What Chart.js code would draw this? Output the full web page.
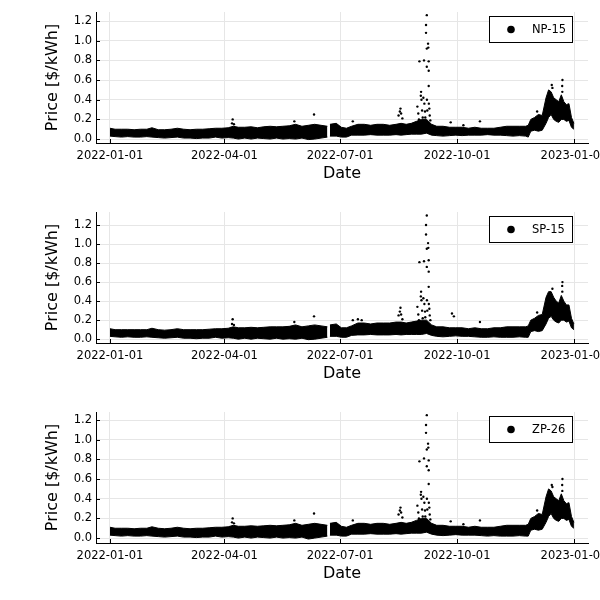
<!DOCTYPE html>
<html>
<head>
<meta charset="utf-8">
<script src="https://cdn.jsdelivr.net/npm/chart.js@4/dist/chart.umd.min.js"></script>
<style>
  body { margin: 0; background: #fff; }
  .panel { position: absolute; left: 0; width: 600px; height: 200px; }
</style>
</head>
<body>
<div class="panel" style="top:0"><canvas id="np" width="600" height="200"></canvas></div>
<div class="panel" style="top:200px"><canvas id="sp" width="600" height="200"></canvas></div>
<div class="panel" style="top:400px"><canvas id="zp" width="600" height="200"></canvas></div>
<script>
// x = days since 2022-01-01
const dateTicks = [0, 90, 181, 273, 365];
const dateLabels = ['2022-01-01', '2022-04-01', '2022-07-01', '2022-10-01', '2023-01-01'];
const priceTicks = [0, 0.2, 0.4, 0.6, 0.8, 1.0, 1.2];

// sample days for the dense hourly band (upper / lower edge)
const days = [0,4,9,14,19,24,29, 33,38,43,48,53,58,63,68,73,78, 83,88,93,97,101,106,111,116,121,126,
  131,136,141,146,151,156,161,166,171,172, 173,178,182,186,190,195,200,205,210,215,
  220,225,229,233,237,241,245,249,253,257, 262,267,272,277,282,287,292,297,302,307,
  312,317,322,327,329,331,334,337,340,343, 345,347,349,351,353,355,357,359,361,363, 364.9];

const npHigh = [0.11,0.10,0.10,0.10,0.095,0.10,0.10, 0.115,0.095,0.095,0.10,0.11,0.10,0.095,0.10,0.10,0.105,
  0.11,0.11,0.115,0.13,0.12,0.12,0.125,0.115,0.125,0.13, 0.125,0.13,0.135,0.15,0.13,0.14,0.15,0.14,0.13,null,
  0.15,0.16,0.12,0.11,0.13,0.15,0.15,0.14,0.15,0.15, 0.14,0.15,0.16,0.15,0.16,0.18,0.20,0.20,0.15,0.13,
  0.13,0.12,0.12,0.12,0.11,0.12,0.11,0.11,0.11,0.12, 0.13,0.13,0.13,0.13,0.14,0.20,0.22,0.25,0.24,0.42,
  0.50,0.48,0.42,0.40,0.38,0.45,0.38,0.35,0.36,0.22, 0.16];
const npLow = [0.03,0.025,0.02,0.025,0.02,0.02,0.025, 0.02,0.015,0.01,0.015,0.02,0.01,0.01,0.005,0.01,0.01,
  0.02,0.01,0.015,0.01,0.0,0.01,0.0,0.01,0.005,0.0, 0.01,0.0,0.005,0.0,0.01,-0.005,0.0,0.01,0.02,null,
  0.03,0.03,0.02,0.02,0.04,0.04,0.04,0.045,0.04,0.04, 0.04,0.045,0.04,0.045,0.05,0.05,0.05,0.06,0.04,0.035,
  0.03,0.035,0.04,0.035,0.04,0.04,0.04,0.045,0.04,0.04, 0.035,0.03,0.035,0.03,0.02,0.08,0.09,0.08,0.09,0.16,
  0.22,0.25,0.20,0.18,0.17,0.20,0.20,0.18,0.19,0.12, 0.10];
const npSpikeDay = [96.5,96,97.5,145,160.5,191,227,228,228.5,229,230,
  241.8,242.5,243.4,244.7,244.5,245,245.5,246.5,247,247.3,247.8,248,248.6,248.6,249.2,249.2,249.2,249.3,249.6,
  250.2,250.4,250.7,250.7,250.7,250.8,251.2,251.5,252,246,243,
  268,278,291,336,347.5,348,355.9,355.7,355.8];
const npSpikePrice = [0.20,0.16,0.15,0.18,0.25,0.18,0.24,0.28,0.31,0.26,0.21,
  0.33,0.26,0.79,0.48,0.44,0.40,0.29,0.42,0.80,0.36,0.28,0.22,1.16,1.08,1.26,0.92,0.735,0.40,0.29,
  0.97,0.93,0.79,0.695,0.54,0.36,0.31,0.24,0.19,0.22,0.20,
  0.17,0.14,0.18,0.28,0.55,0.52,0.60,0.54,0.48];

const spHigh = [0.11,0.10,0.10,0.10,0.10,0.10,0.10, 0.115,0.10,0.095,0.10,0.11,0.10,0.10,0.10,0.10,0.105,
  0.11,0.11,0.115,0.13,0.12,0.12,0.125,0.12,0.125,0.13, 0.13,0.13,0.135,0.15,0.13,0.14,0.15,0.14,0.13,null,
  0.15,0.16,0.12,0.12,0.14,0.17,0.17,0.16,0.17,0.17, 0.17,0.18,0.18,0.17,0.18,0.19,0.20,0.20,0.15,0.13,
  0.13,0.12,0.12,0.12,0.11,0.12,0.11,0.11,0.12,0.12, 0.13,0.13,0.13,0.13,0.14,0.20,0.22,0.25,0.26,0.44,
  0.50,0.50,0.44,0.40,0.38,0.46,0.40,0.36,0.36,0.22, 0.16];
const spLow = [0.03,0.025,0.02,0.025,0.02,0.02,0.025, 0.02,0.015,0.01,0.015,0.02,0.01,0.01,0.005,0.01,0.01,
  0.02,0.01,0.015,0.01,0.0,0.01,0.0,0.01,0.005,0.0, 0.01,0.0,0.005,0.0,0.01,-0.005,0.0,0.01,0.02,null,
  0.03,0.03,0.02,0.02,0.04,0.045,0.045,0.05,0.045,0.045, 0.045,0.05,0.045,0.05,0.05,0.05,0.05,0.06,0.04,0.03,
  0.025,0.03,0.035,0.03,0.03,0.025,0.02,0.02,0.025,0.02, 0.02,0.02,0.025,0.02,0.02,0.08,0.09,0.08,0.09,0.16,
  0.22,0.24,0.20,0.18,0.17,0.20,0.20,0.18,0.19,0.12, 0.10];
const spSpikeDay = [96.5,96,97.5,145,160.5,191,195,198,227,228,228.5,229,230,
  241.8,242.5,243.4,244.7,244.5,245,245.5,246.5,247,247.3,247.8,248,248.6,248.6,249.2,249.2,249.2,249.3,249.6,
  250.2,250.4,250.7,250.7,250.7,250.8,251.2,251.5,252,246,243,
  269,270.5,291,336,348,355.9,355.7,355.8];
const spSpikePrice = [0.21,0.16,0.15,0.18,0.24,0.20,0.21,0.20,0.25,0.29,0.33,0.26,0.21,
  0.34,0.26,0.81,0.50,0.45,0.41,0.30,0.43,0.82,0.37,0.29,0.23,1.20,1.10,1.30,0.95,0.76,0.41,0.30,
  1.01,0.96,0.83,0.71,0.55,0.37,0.32,0.25,0.20,0.22,0.20,
  0.27,0.24,0.18,0.28,0.53,0.60,0.56,0.50];

const zpHigh = [0.11,0.10,0.10,0.10,0.095,0.10,0.10, 0.115,0.10,0.095,0.10,0.11,0.10,0.095,0.10,0.10,0.105,
  0.11,0.11,0.115,0.13,0.12,0.12,0.125,0.12,0.125,0.13, 0.125,0.13,0.135,0.15,0.13,0.14,0.15,0.14,0.13,null,
  0.15,0.16,0.12,0.11,0.13,0.15,0.15,0.14,0.15,0.15, 0.14,0.15,0.16,0.15,0.16,0.18,0.20,0.20,0.15,0.13,
  0.13,0.12,0.12,0.12,0.11,0.12,0.11,0.11,0.11,0.12, 0.13,0.13,0.13,0.13,0.14,0.20,0.22,0.25,0.24,0.42,
  0.50,0.48,0.42,0.40,0.38,0.45,0.38,0.35,0.36,0.22, 0.16];
const zpLow = [0.03,0.025,0.02,0.025,0.02,0.02,0.025, 0.02,0.015,0.01,0.015,0.02,0.01,0.01,0.005,0.01,0.01,
  0.02,0.01,0.015,0.01,0.0,0.01,0.0,0.01,0.005,0.0, 0.01,0.0,0.005,0.0,0.01,-0.01,0.0,0.01,0.02,null,
  0.03,0.03,0.02,0.02,0.04,0.04,0.04,0.045,0.04,0.04, 0.04,0.045,0.04,0.045,0.05,0.05,0.05,0.06,0.04,0.03,
  0.025,0.03,0.035,0.03,0.03,0.03,0.025,0.02,0.025,0.02, 0.02,0.02,0.025,0.02,0.02,0.08,0.09,0.08,0.09,0.16,
  0.22,0.25,0.20,0.18,0.17,0.20,0.20,0.18,0.19,0.12, 0.10];
const zpSpikeDay = [96.5,96,97.5,145,160.5,191,227,228,228.5,229,230,
  241.8,242.5,243.4,244.7,244.5,245,245.5,246.5,247,247.3,247.8,248,248.6,248.6,249.2,249.2,249.2,249.3,249.6,
  250.2,250.4,250.7,250.7,250.7,250.8,251.2,251.5,252,246,243,
  268,278,291,336,347.5,348,355.9,355.7,355.8];
const zpSpikePrice = [0.20,0.16,0.15,0.18,0.25,0.18,0.24,0.28,0.31,0.26,0.21,
  0.33,0.26,0.78,0.47,0.44,0.40,0.29,0.42,0.81,0.36,0.28,0.22,1.15,1.07,1.25,0.90,0.73,0.40,0.29,
  0.96,0.92,0.79,0.69,0.55,0.36,0.31,0.24,0.19,0.22,0.20,
  0.17,0.14,0.18,0.28,0.54,0.52,0.60,0.54,0.48];

const FONT = 'DejaVu Sans';

// Plots.jl-style legend box and inward tick marks
const boxLegend = {
    id: 'boxLegend',
    afterDraw(chart, args, opts) {
        const ctx = chart.ctx;
        const a = chart.chartArea;
        ctx.save();
        // inward ticks
        ctx.strokeStyle = '#000';
        ctx.lineWidth = 1;
        ctx.beginPath();
        chart.scales.x.ticks.forEach(t => {
            const px = Math.round(chart.scales.x.getPixelForValue(t.value)) + 0.5;
            ctx.moveTo(px, a.bottom);
            ctx.lineTo(px, a.bottom - 4);
        });
        chart.scales.y.ticks.forEach(t => {
            const py = Math.round(chart.scales.y.getPixelForValue(t.value)) + 0.5;
            ctx.moveTo(a.left, py);
            ctx.lineTo(a.left + 4, py);
        });
        ctx.stroke();

        const w = 83, h = 26;
        const x = a.right - 16 - w, y = a.top + 4;
        ctx.fillStyle = '#fff';
        ctx.fillRect(x, y, w, h);
        ctx.strokeRect(x + 0.5, y + 0.5, w, h);
        ctx.fillStyle = '#000';
        ctx.beginPath();
        ctx.arc(x + 22, y + h / 2 + 0.5, 3.8, 0, Math.PI * 2);
        ctx.fill();
        ctx.font = '11.5px "' + FONT + '"';
        ctx.textBaseline = 'middle';
        ctx.fillText(opts.text, x + 43, y + h / 2 + 1);
        ctx.restore();
    }
};

function makePanel(id, name, high, low, spikeDay, spikePrice, yMin, yMax) {
    const ctx = document.getElementById(id).getContext('2d');
    const lowPts = days.map((d, i) => ({ x: d, y: low[i] }));
    const highPts = days.map((d, i) => ({ x: d, y: high[i] }));
    const spikes = spikeDay.map((d, i) => ({ x: d, y: spikePrice[i] }));

    return new Chart(ctx, {
        type: 'line',
        data: {
            datasets: [{
                data: lowPts,
                borderColor: '#000',
                borderWidth: 1,
                pointRadius: 0,
                fill: false,
                spanGaps: false
            }, {
                data: highPts,
                borderColor: '#000',
                backgroundColor: '#000',
                borderWidth: 1,
                pointRadius: 0,
                fill: '-1',
                spanGaps: false
            }, {
                type: 'scatter',
                label: name,
                data: spikes,
                showLine: false,
                pointRadius: 1.2,
                pointBorderWidth: 0,
                pointBackgroundColor: '#000'
            }]
        },
        options: {
            responsive: false,
            animation: false,
            layout: { padding: { left: 0, right: 12, top: 12, bottom: 0 } },
            plugins: {
                legend: { display: false },
                tooltip: { enabled: false },
                boxLegend: { text: name }
            },
            scales: {
                x: {
                    type: 'linear',
                    min: -11,
                    max: 376,
                    afterFit: s => { s.height = 57; s.paddingLeft = 0; s.paddingRight = 0; },
                    afterBuildTicks: s => { s.ticks = dateTicks.map(v => ({ value: v })); },
                    ticks: {
                        color: '#000',
                        font: { family: FONT, size: 11.5 },
                        padding: 6,
                        maxRotation: 0,
                        autoSkip: false,
                        callback: (v) => dateLabels[dateTicks.indexOf(v)]
                    },
                    grid: { color: '#e6e6e6', drawTicks: false },
                    border: { display: true, color: '#000', width: 1 },
                    title: {
                        display: true,
                        text: 'Date',
                        color: '#000',
                        font: { family: FONT, size: 16 },
                        padding: { top: 0, bottom: 17 }
                    }
                },
                y: {
                    min: yMin,
                    max: yMax,
                    afterFit: s => { s.width = 96; s.paddingTop = 0; s.paddingBottom = 0; },
                    afterBuildTicks: s => { s.ticks = priceTicks.map(v => ({ value: v })); },
                    ticks: {
                        color: '#000',
                        font: { family: FONT, size: 11.5 },
                        padding: 4,
                        callback: v => v.toFixed(1)
                    },
                    grid: { color: '#e6e6e6', drawTicks: false },
                    border: { display: true, color: '#000', width: 1 },
                    title: {
                        display: true,
                        text: 'Price [$/kWh]',
                        color: '#000',
                        font: { family: FONT, size: 16 },
                        padding: { top: 43, bottom: 0 }
                    }
                }
            }
        },
        plugins: [boxLegend]
    });
}

makePanel('np', 'NP-15', npHigh, npLow, npSpikeDay, npSpikePrice, -0.04, 1.292);
makePanel('sp', 'SP-15', spHigh, spLow, spSpikeDay, spSpikePrice, -0.04, 1.337);
makePanel('zp', 'ZP-26', zpHigh, zpLow, zpSpikeDay, zpSpikePrice, -0.05, 1.282);
</script>
</body>
</html>
